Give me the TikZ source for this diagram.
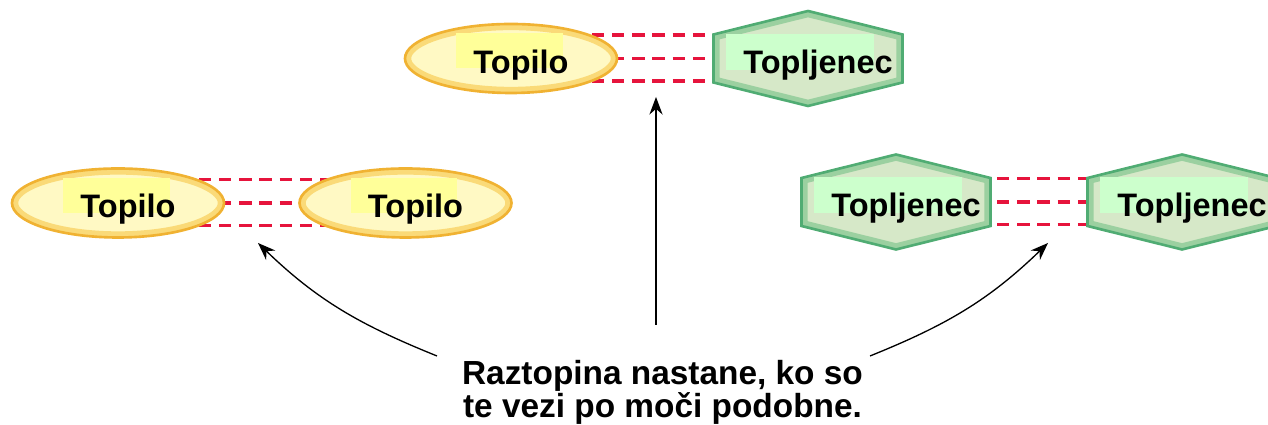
\documentclass[tikz,border=0pt]{standalone}
\usepackage{fontspec}
\setmainfont{Liberation Sans}
\usetikzlibrary{shapes, arrows.meta, positioning, backgrounds}

\definecolor{topfill}{RGB}{255,249,196}
\definecolor{toprim}{RGB}{240,178,50}
\definecolor{topglow}{RGB}{250,218,120}
\definecolor{toprect}{RGB}{255,255,153}
\definecolor{hexfill}{RGB}{214,232,200}
\definecolor{hexrim}{RGB}{80,172,115}
\definecolor{hexglow}{RGB}{155,208,160}
\definecolor{hexrect}{RGB}{204,255,204}
\definecolor{bondred}{RGB}{230,20,60}

% hexagon round the centre of a node
\newcommand{\hexpath}{(path picture bounding box.center) ++(0,0.95) -- ++(1.89,-0.47) -- ++(0,-0.96) -- ++(-1.89,-0.47) -- ++(-1.89,0.47) -- ++(0,0.96) -- cycle}

\begin{document}
\begin{tikzpicture}[
    label font/.style={font=\bfseries\fontsize{18.5}{20}\selectfont, text height=0.6cm, text depth=0pt,
      execute at begin node={\hspace*{0.4cm}}},
    topilo/.style={label font, ellipse, minimum width=4.24cm, minimum height=1.38cm, inner sep=0pt,
      fill=topfill, draw=toprim, line width=1.5pt,
      path picture={
        \draw[topglow, line width=7pt] (path picture bounding box.center) ellipse [x radius=2.12cm, y radius=0.69cm];
        \fill[toprect] (path picture bounding box.center) ++(-1.1,0.5) rectangle ++(2.13,-0.7);
      }},
    topljenec/.style={label font, rectangle, minimum width=3.9cm, minimum height=2.02cm, inner sep=0pt,
      path picture={
        \fill[hexfill] \hexpath;
        \begin{scope}
          \clip \hexpath;
          \draw[hexglow, line width=7pt] \hexpath;
        \end{scope}
        \draw[hexrim, line width=1.5pt] \hexpath;
        \fill[hexrect] (path picture bounding box.center) ++(-1.64,0.49) rectangle ++(2.95,-0.72);
      }},
    bond/.style={draw=bondred, line width=2pt, dash pattern=on 7pt off 4.5pt},
    link/.style={-{Stealth[length=10pt,width=7.5pt]}, line width=0.75pt}
  ]
  \useasboundingbox (0,0) rectangle (25.36,8.5);

  % topilo - topljenec
  \node[topilo] (tA) at (10.22,7.33) {Topilo};
  \node[topljenec] (tB) at (16.16,7.33) {Topljenec};
  % topilo - topilo
  \node[topilo] (lA) at (2.36,4.44) {Topilo};
  \node[topilo] (lB) at (8.11,4.44) {Topilo};
  % topljenec - topljenec
  \node[topljenec] (rA) at (17.92,4.46) {Topljenec};
  \node[topljenec] (rB) at (23.64,4.46) {Topljenec};

  \begin{scope}[on background layer]
    \foreach \dy in {0.47,0,-0.45} {
      \draw[bond] ([yshift=\dy cm]tA.center) -- ([yshift=\dy cm]tB.center);
      \draw[bond] ([yshift=\dy cm]lA.center) -- ([yshift=\dy cm]lB.center);
      \draw[bond] ([yshift=\dy cm]rA.center) -- ([yshift=\dy cm]rB.center);
    }
  \end{scope}

  \node[font=\bfseries\fontsize{19}{18.8}\selectfont, align=center, fill=white, inner sep=2pt] (note) at (13.25,0.65)
    {Raztopina nastane, ko so\\te vezi po moči podobne.};

  \coordinate (fromL) at (8.74,1.38);
  \coordinate (fromC) at (13.12,2.0);
  \coordinate (fromR) at (17.4,1.38);
  \coordinate (toL) at (5.16,3.64);
  \coordinate (toC) at (13.12,6.56);
  \coordinate (toR) at (20.96,3.64);

  \draw[link] (fromL) to[out=158, in=-44] (toL);
  \draw[link] (fromC) -- (toC);
  \draw[link] (fromR) to[out=22, in=-136] (toR);
\end{tikzpicture}
\end{document}
